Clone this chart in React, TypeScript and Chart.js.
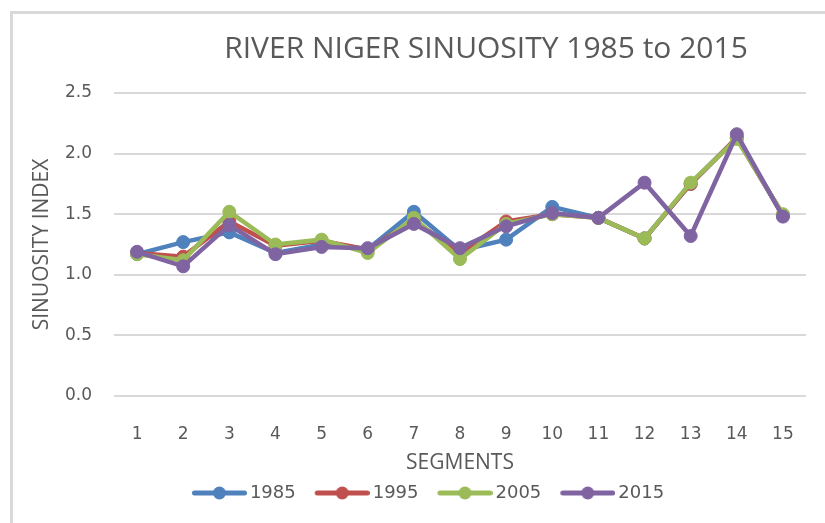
import React, { useEffect, useRef } from "react";
import { Chart, registerables } from "chart.js";

Chart.register(...registerables);

const segments = ["1", "2", "3", "4", "5", "6", "7", "8", "9", "10", "11", "12", "13", "14", "15"];
const years = ["1985", "1995", "2005", "2015"];
const s1985 = [1.17, 1.27, 1.35, 1.18, 1.25, 1.21, 1.52, 1.2, 1.29, 1.56, 1.47, 1.3, 1.75, 2.13, 1.49];
const s1995 = [1.18, 1.15, 1.44, 1.24, 1.28, 1.21, 1.45, 1.18, 1.44, 1.5, 1.47, 1.3, 1.75, 2.13, 1.49];
const s2005 = [1.17, 1.12, 1.52, 1.25, 1.29, 1.18, 1.47, 1.13, 1.42, 1.5, 1.47, 1.3, 1.76, 2.12, 1.5];
const s2015 = [1.19, 1.07, 1.41, 1.17, 1.23, 1.22, 1.42, 1.22, 1.4, 1.51, 1.47, 1.76, 1.32, 2.16, 1.48];
const seriesValues = [s1985, s1995, s2005, s2015];
const colors = ["#4F81BD", "#C0504D", "#9BBB59", "#8064A2"];
const yMin = 0;
const yMax = 2.5;
const yStep = 0.5;
const chartTitle = "RIVER NIGER SINUOSITY 1985 to 2015";
const xTitle = "SEGMENTS";
const yTitle = "SINUOSITY INDEX";

const TEXT = "#595959";
const GRID = "#D9D9D9";

function legendImage(color: string) {
  const c = document.createElement("canvas");
  c.width = 72;
  c.height = 16;
  const g = c.getContext("2d")!;
  g.strokeStyle = color;
  g.lineWidth = 5;
  g.lineCap = "round";
  g.beginPath();
  g.moveTo(19.5, 8);
  g.lineTo(69.5, 8);
  g.stroke();
  g.fillStyle = color;
  g.beginPath();
  g.arc(44.5, 8, 6.5, 0, Math.PI * 2);
  g.fill();
  return c;
}

const titlePlugin = {
  id: "customTitle",
  afterDraw(chart: any) {
    const { ctx, chartArea } = chart;
    ctx.save();
    ctx.font = '30px "Open Sans"';
    ctx.fillStyle = TEXT;
    ctx.textAlign = "center";
    ctx.textBaseline = "middle";
    ctx.fillText(chartTitle, (chartArea.left + chartArea.right) / 2 + 26, chartArea.top - 44);
    ctx.restore();
  },
};

export default function App() {
  const ref = useRef<HTMLCanvasElement>(null);

  useEffect(() => {
    if (!ref.current) return;
    const images = colors.map((c) => legendImage(c));
    const chart = new Chart(ref.current, {
      type: "line",
      data: {
        labels: segments,
        datasets: years.map((y, i) => ({
          label: y,
          data: seriesValues[i],
          borderColor: colors[i],
          backgroundColor: colors[i],
          borderWidth: 4.5,
          pointRadius: 6.5,
          pointBorderWidth: 1,
          pointBackgroundColor: colors[i],
          pointBorderColor: colors[i],
          tension: 0,
          order: years.length - i,
        })),
      },
      options: {
        responsive: false,
        animation: false,
        layout: { padding: { left: 39, right: 19, top: 93, bottom: 11 } },
        plugins: {
          title: { display: false },
          tooltip: { enabled: false },
          legend: {
            display: true,
            position: "bottom",
            labels: {
              usePointStyle: true,
              pointStyleWidth: 60,
              padding: 8,
              color: TEXT,
              font: { family: "DejaVu Sans", size: 18 },
              generateLabels: (ch: any) =>
                ch.data.datasets.map((ds: any, i: number) => ({
                  text: ds.label,
                  fillStyle: colors[i],
                  strokeStyle: colors[i],
                  fontColor: TEXT,
                  lineWidth: 0,
                  pointStyle: images[i],
                  hidden: false,
                  datasetIndex: i,
                })),
            },
          },
        },
        scales: {
          x: {
            type: "category",
            offset: true,
            grid: { display: false },
            border: { display: false },
            ticks: {
              color: TEXT,
              padding: 20,
              font: { family: "DejaVu Sans", size: 17 },
              maxRotation: 0,
            },
            title: {
              display: true,
              text: xTitle,
              color: TEXT,
              font: { family: "Open Sans", size: 21 },
              padding: { top: 0, bottom: 0 },
            },
            afterFit: (s: any) => {
              s.height = 80;
            },
          },
          y: {
            min: yMin,
            max: yMax,
            grid: { color: GRID, lineWidth: 2, drawTicks: false },
            border: { display: false },
            ticks: {
              stepSize: yStep,
              color: TEXT,
              padding: 22,
              font: { family: "DejaVu Sans", size: 17 },
              callback: (v: any) => Number(v).toFixed(1),
            },
            title: {
              display: true,
              text: yTitle,
              color: TEXT,
              font: { family: "Open Sans", size: 21 },
              padding: { top: -9.6, bottom: 0 },
            },
            afterFit: (s: any) => {
              s.width = 75;
            },
          },
        },
      },
      plugins: [titlePlugin],
    });
    return () => chart.destroy();
  }, []);

  return (
    <div style={{ position: "fixed", left: 0, top: 0, width: 825, height: 523, overflow: "hidden", background: "#fff" }}>
      <canvas ref={ref} width={825} height={523} style={{ position: "absolute", left: 0, top: 0, width: 825, height: 523 }} />
      <div style={{ position: "absolute", left: 10, top: 11, width: 815, height: 3, background: GRID }} />
      <div style={{ position: "absolute", left: 10, top: 11, width: 3, height: 512, background: GRID }} />
    </div>
  );
}
